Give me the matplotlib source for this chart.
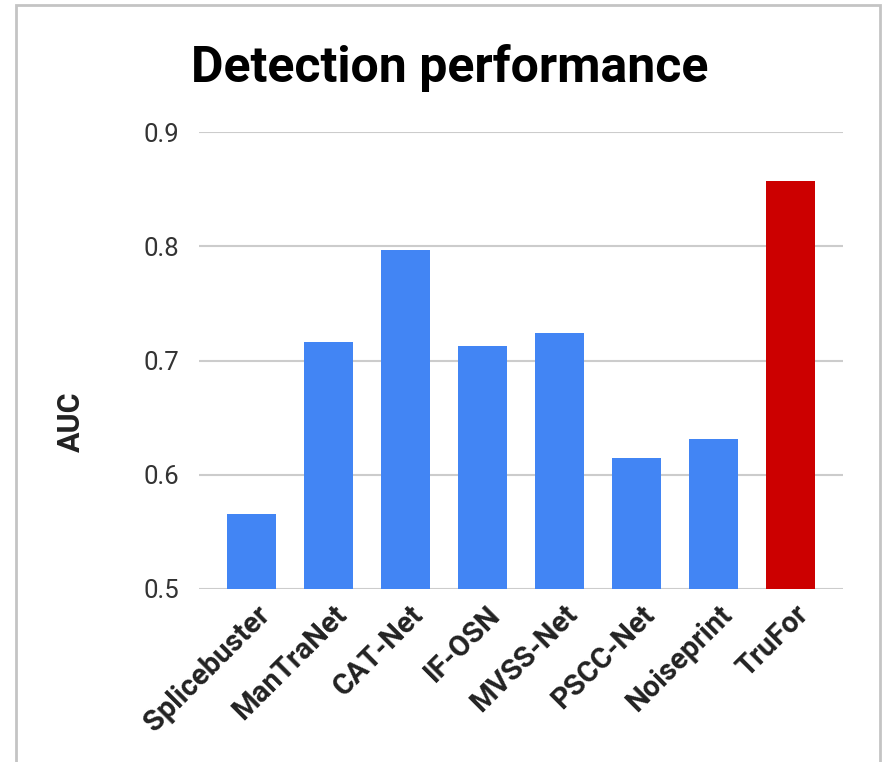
import matplotlib
matplotlib.use("Agg")
import matplotlib.pyplot as plt
import matplotlib.transforms as mtransforms
from matplotlib.patches import Rectangle

methods = ["Splicebuster", "ManTraNet", "CAT-Net", "IF-OSN",
           "MVSS-Net", "PSCC-Net", "Noiseprint", "TruFor"]
auc = [0.566, 0.716, 0.797, 0.713, 0.724, 0.615, 0.631, 0.857]
colors = ["#4285F4"] * 7 + ["#CC0000"]
yticks = [0.5, 0.6, 0.7, 0.8, 0.9]

plt.rcParams['font.family'] = ['Roboto', 'DejaVu Sans']

fig = plt.figure(figsize=(8.85, 7.62), dpi=100)
ax = fig.add_axes([199/885, 1 - 589/762, (843-199)/885, (589-132)/762])

x = range(len(methods))
ax.bar(x, [v - 0.5 for v in auc], bottom=0.5, width=0.636, color=colors, zorder=3)

ax.set_ylim(0.5, 0.9)
ax.set_xlim(-0.68, len(methods) - 1 + 0.68)
ax.set_yticks(yticks)
ax.set_yticklabels([f"{t:.1f}" for t in yticks], fontsize=18.5, color="#333333")
ax.yaxis.grid(True, color="#cccccc", linewidth=1.5, zorder=0)
ax.tick_params(axis='y', length=0, pad=14)
ax.tick_params(axis='x', length=0, pad=8)
for s in ax.spines.values():
    s.set_visible(False)

ax.set_xticks(list(x))
ax.set_xticklabels(methods, rotation=45, ha='right', va='center',
                   rotation_mode='anchor', fontsize=21, fontweight='bold', color="#222222")
# nudge labels right and down a bit
shift = mtransforms.ScaledTranslation(14/100, -10/100, fig.dpi_scale_trans)
for lab in ax.get_xticklabels():
    lab.set_transform(lab.get_transform() + shift)

# y label sits lower than axes middle, like the reference
fig.text(71/885, 1 - 422/762, "AUC", rotation=90, ha='center', va='center',
         fontsize=22, fontweight='bold', color="#222222")

fig.text(450/885, 1 - 68/762, "Detection performance", ha='center', va='center',
         fontsize=36, fontweight='bold', color="#000000")

# light frame around the chart
fig.patches.append(Rectangle((16/885, -0.01), (880-16)/885, 1 - 5/762 + 0.01,
                             transform=fig.transFigure, fill=False,
                             edgecolor="#c4c4c4", linewidth=2))

fig.savefig("out.png", dpi=100)
